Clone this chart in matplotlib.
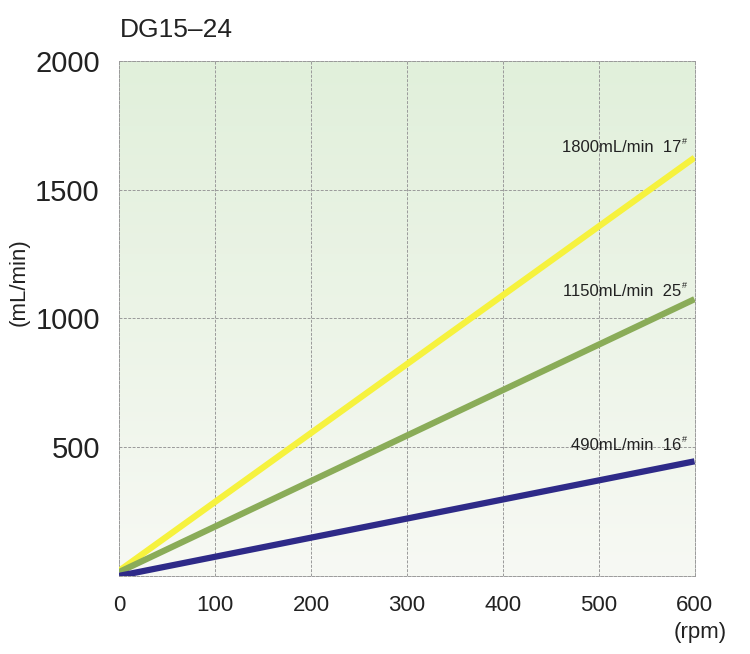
import numpy as np
import matplotlib
matplotlib.use("Agg")
import matplotlib.pyplot as plt
from matplotlib.colors import LinearSegmentedColormap

plt.rcParams['font.family'] = ['Liberation Sans Narrow', 'Liberation Sans', 'DejaVu Sans']

# data
rpm = [0, 600]
flow_17 = [20, 1625]
flow_25 = [15, 1075]
flow_16 = [0, 445]
labels = ['1800mL/min  17', '1150mL/min  25', '490mL/min  16']
label_y = [1665, 1105, 506]
colors = ['#f6f23e', '#8aac58', '#2e2a88']
xticks = [0, 100, 200, 300, 400, 500, 600]
yticks = [500, 1000, 1500, 2000]

fig = plt.figure(figsize=(7.5, 6.54), dpi=100)
ax = fig.add_axes([0.159, 0.1195, 0.767, 0.787])

# green-to-pale background gradient
cmap = LinearSegmentedColormap.from_list('bg', ['#f7f9f4', '#ecf4e7', '#e1f0db'])
grad = np.linspace(0, 1, 256).reshape(-1, 1)
ax.imshow(grad, extent=[0, 600, 0, 2000], origin='lower', aspect='auto',
          cmap=cmap, zorder=0)

for ys, c in zip([flow_17, flow_25, flow_16], colors):
    ax.plot(rpm, ys, color=c, lw=4.5, solid_capstyle='butt', zorder=3)

for txt, y in zip(labels, label_y):
    ax.text(586, y, txt, ha='right', va='center', fontsize=12, color='#222222', zorder=4)
    ax.text(587, y + 22, '#', ha='left', va='center', fontsize=6.5, color='#222222', zorder=4)

ax.set_xlim(0, 600)
ax.set_ylim(0, 2000)
ax.set_xticks(xticks)
ax.set_yticks(yticks)
ax.tick_params(length=0)
ax.tick_params(axis='x', labelsize=16, pad=14, labelcolor='#222222')
ax.tick_params(axis='y', labelsize=21, pad=14, labelcolor='#222222')
ax.grid(True, ls=(0, (3, 1.5)), color='#9a9a9a', lw=0.7, zorder=1)
for s in ax.spines.values():
    s.set_linestyle((0, (3, 1.5)))
    s.set_color('#9a9a9a')
    s.set_linewidth(0.7)

fig.text(0.16, 0.954, 'DG15\u201324', fontsize=19, color='#222222', ha='left', va='center',
         family=['Liberation Sans', 'DejaVu Sans'])
fig.text(0.026, 0.568, '(mL/min)', rotation=90, fontsize=16, color='#222222',
         ha='center', va='center')
fig.text(0.934, 0.033, '(rpm)', fontsize=16, color='#222222', ha='center', va='center')

fig.savefig('out.png', dpi=100, facecolor='white')
